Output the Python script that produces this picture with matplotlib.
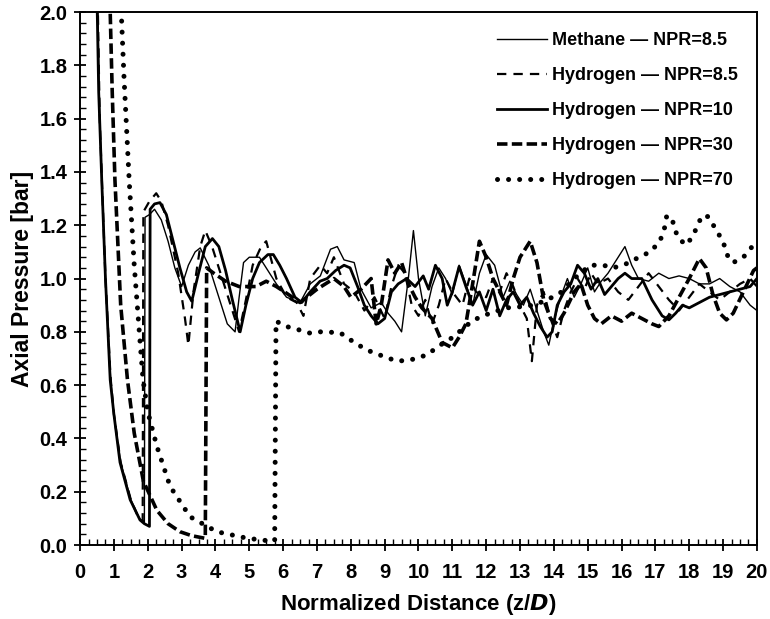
import matplotlib
matplotlib.use("Agg")
import matplotlib.pyplot as plt
from matplotlib.ticker import MultipleLocator, FormatStrFormatter

plt.rcParams["font.family"] = "Liberation Sans"
plt.rcParams["font.weight"] = "bold"

# -----------------------------------------------------------
# axial pressure profiles along the jet centreline
# -----------------------------------------------------------
ch4_85_z = [0.52, 0.58, 0.65, 0.75, 0.9, 1.0, 1.2, 1.5, 1.75, 1.9,
            1.92, 2.05, 2.2, 2.4, 2.6, 2.8, 3.0, 3.2, 3.4, 3.55, 3.8, 4.1,
            4.35, 4.58, 4.7, 4.83, 5.0, 5.3, 5.5, 5.8, 6.1, 6.5, 6.8, 7.1,
            7.4, 7.6, 7.8, 8.1, 8.3, 8.6, 8.9, 9.1, 9.3, 9.5, 9.7, 9.85,
            10.0, 10.2, 10.4, 10.6, 10.8, 11.0, 11.2, 11.4, 11.6, 11.8, 12.0,
            12.25, 12.5, 12.7, 12.9, 13.1, 13.3, 13.5, 13.7, 13.85, 14.0,
            14.2, 14.4, 14.6, 14.8, 15.0, 15.2, 15.4, 15.6, 15.8, 16.1, 16.3,
            16.5, 16.8, 17.1, 17.4, 17.7, 18.0, 18.3, 18.6, 18.9, 19.2, 19.5,
            19.8, 20.0]
ch4_85_p = [2.05, 1.6, 1.35, 1.0, 0.63, 0.49, 0.31, 0.17, 0.1, 0.085,
            1.23, 1.24, 1.26, 1.22, 1.14, 1.04, 0.97, 1.05, 1.10, 1.115, 1.05,
            0.93, 0.83, 0.80, 0.93, 1.06, 1.08, 1.08, 1.04, 0.98, 0.93, 0.91,
            0.98, 1.01, 1.11, 1.12, 1.07, 1.06, 0.96, 0.89, 0.91, 0.87, 0.84,
            0.80, 1.0, 1.18, 1.0, 0.86, 0.97, 1.04, 1.00, 0.94, 1.05, 0.98,
            0.90, 1.02, 1.09, 1.05, 0.93, 0.99, 0.94, 0.90, 0.96, 0.88, 0.80,
            0.75, 0.84, 0.93, 1.0, 0.93, 0.98, 1.04, 0.95, 0.99, 1.02, 1.06,
            1.12, 1.05, 1.0, 0.99, 1.02, 1.0, 1.01, 1.0, 0.98, 0.98, 1.0, 0.97,
            0.95, 0.9, 0.88]

h2_85_z = [0.52, 0.58, 0.65, 0.75, 0.9, 1.0, 1.2, 1.5, 1.7, 1.85,
           1.87, 2.05, 2.25, 2.4, 2.6, 2.9, 3.1, 3.2, 3.35, 3.55, 3.7, 3.9,
           4.2, 4.5, 4.7, 4.9, 5.1, 5.35, 5.5, 5.8, 6.1, 6.4, 6.6, 6.8, 7.1,
           7.3, 7.5, 7.8, 8.1, 8.4, 8.7, 9.0, 9.2, 9.4, 9.6, 9.8, 10.0, 10.2,
           10.4, 10.6, 10.8, 11.0, 11.3, 11.5, 11.7, 12.0, 12.2, 12.4, 12.6,
           12.8, 13.0, 13.2, 13.35, 13.5, 13.7, 13.9, 14.1, 14.3, 14.5, 14.7,
           14.9, 15.1, 15.3, 15.6, 15.9, 16.2, 16.5, 16.8, 17.1, 17.4, 17.7,
           18.0, 18.3, 18.6, 18.9, 19.2, 19.5, 19.8, 20.0]
h2_85_p = [2.05, 1.6, 1.35, 1.0, 0.63, 0.49, 0.31, 0.17, 0.11, 0.09,
           1.25, 1.29, 1.32, 1.29, 1.2, 1.02, 0.85, 0.75, 0.95, 1.12, 1.18,
           1.12, 1.0, 0.88, 0.8, 0.92, 1.05, 1.12, 1.14, 1.0, 0.93, 0.91,
           0.86, 1.0, 1.05, 1.02, 1.08, 0.98, 0.95, 0.88, 0.93, 0.85, 0.97,
           1.05, 1.02, 0.9, 0.86, 0.92, 0.83, 0.9, 1.0, 0.95, 0.9, 1.0, 0.95,
           0.93, 1.0, 0.95, 1.02, 0.97, 0.9, 0.85, 0.69, 0.9, 0.95, 0.85,
           0.78, 0.88, 0.95, 1.0, 0.96, 1.02, 0.98, 1.0, 0.95, 0.92, 0.97,
           1.02, 0.97, 0.92, 0.88, 0.93, 0.98, 0.95, 0.92, 0.95, 0.98, 1.0,
           0.97]

h2_10_z = [0.5, 0.55, 0.64, 0.75, 0.89, 1.0, 1.18, 1.48, 1.77, 1.9, 2.05,
           2.07, 2.2, 2.36, 2.55, 2.75, 2.95, 3.15, 3.3, 3.5, 3.7, 3.91, 4.1,
           4.3, 4.5, 4.73, 4.9, 5.1, 5.3, 5.55, 5.71, 5.9, 6.1, 6.35, 6.55,
           6.8, 7.09, 7.3, 7.55, 7.8, 7.98, 8.2, 8.4, 8.6, 8.8, 9.0, 9.2, 9.4,
           9.65, 9.9, 10.14, 10.3, 10.5, 10.7, 10.85, 11.0, 11.2, 11.4, 11.6,
           11.8, 12.0, 12.2, 12.4, 12.6, 12.8, 13.0, 13.2, 13.4, 13.6, 13.8,
           13.95, 14.1, 14.3, 14.5, 14.7, 14.9, 15.1, 15.3, 15.5, 15.7, 15.9,
           16.1, 16.3, 16.6, 16.9, 17.2, 17.4, 17.6, 17.8, 18.0, 18.3, 18.6,
           18.9, 19.2, 19.5, 19.8, 20.0]
h2_10_p = [2.05, 1.7, 1.37, 1.0, 0.62, 0.49, 0.31, 0.17, 0.094, 0.08, 0.07,
           1.26, 1.28, 1.285, 1.24, 1.14, 1.04, 0.95, 0.915, 1.02, 1.12, 1.15,
           1.12, 1.03, 0.92, 0.80, 0.9, 1.0, 1.06, 1.09, 1.09, 1.05, 1.0,
           0.93, 0.91, 0.95, 0.99, 1.0, 1.03, 1.05, 1.04, 0.97, 0.9, 0.86,
           0.83, 0.85, 0.95, 0.98, 1.0, 0.97, 1.01, 0.96, 1.05, 1.0, 0.9,
           0.95, 1.045, 0.97, 0.9, 0.95, 0.88, 0.96, 0.86, 0.92, 0.95, 0.9,
           0.93, 0.87, 0.82, 0.78, 0.8, 0.9, 0.95, 0.98, 1.05, 1.02, 0.96,
           1.0, 0.94, 0.97, 1.0, 1.02, 1.0, 1.0, 0.92, 0.86, 0.845, 0.87, 0.9,
           0.89, 0.91, 0.93, 0.94, 0.95, 0.96, 0.97, 1.0]

h2_30_z = [0.88, 0.95, 1.03, 1.2, 1.4, 1.6, 1.87, 2.27, 2.6, 2.95, 3.3,
           3.7, 3.74, 3.95, 4.3, 4.7, 5.2, 5.5, 5.8, 6.1, 6.5, 6.8, 7.0, 7.5,
           7.8, 8.0, 8.3, 8.6, 8.75, 8.9, 9.1, 9.3, 9.5, 9.7, 9.9, 10.1, 10.4,
           10.7, 11.0, 11.2, 11.4, 11.6, 11.8, 12.0, 12.2, 12.4, 12.6, 12.8,
           13.0, 13.15, 13.3, 13.5, 13.7, 13.9, 14.1, 14.3, 14.6, 14.8, 15.0,
           15.2, 15.4, 15.7, 16.0, 16.3, 16.6, 16.9, 17.1, 17.4, 17.7, 18.0,
           18.3, 18.5, 18.7, 18.9, 19.1, 19.3, 19.6, 19.9, 20.0]
h2_30_p = [2.05, 1.7, 1.37, 0.9, 0.62, 0.42, 0.24, 0.13, 0.08, 0.05, 0.035,
           0.025, 1.04, 1.02, 0.99, 0.97, 0.97, 0.99, 0.97, 0.945, 0.91, 0.94,
           0.96, 1.0, 0.97, 0.93, 0.96, 1.0, 0.83, 0.9, 1.07, 1.02, 1.06,
           0.98, 0.93, 0.89, 0.85, 0.76, 0.74, 0.78, 0.83, 0.98, 1.14, 1.08,
           1.0, 0.95, 0.9, 1.0, 1.08, 1.11, 1.14, 1.06, 0.92, 0.85, 0.83,
           0.87, 0.95, 0.98, 0.9, 0.85, 0.83, 0.86, 0.84, 0.87, 0.85, 0.83,
           0.82, 0.86, 0.93, 1.0, 1.075, 1.04, 0.94, 0.87, 0.845, 0.87, 0.95,
           1.03, 1.04]

h2_70_z = [1.2, 1.3, 1.45, 1.6, 1.75, 1.86, 2.0, 2.27, 2.66, 3.25, 4.04,
           4.92, 5.4, 5.75, 5.79, 6.1, 6.4, 6.8, 7.1, 7.68, 8.07, 8.47, 8.86,
           9.36, 9.75, 10.24, 10.64, 11.02, 11.32, 11.62, 12.11, 12.6, 13.0,
           13.4, 13.8, 14.18, 14.45, 14.67, 15.07, 15.46, 15.76, 16.15, 16.44,
           16.84, 17.13, 17.28, 17.33, 17.48, 17.58, 17.73, 17.92, 18.12,
           18.32, 18.41, 18.56, 18.81, 19.0, 19.15, 19.3, 19.6, 19.9, 20.0]
h2_70_p = [2.05, 1.75, 1.37, 1.05, 0.8, 0.62, 0.5, 0.37, 0.22, 0.106, 0.05,
           0.026, 0.018, 0.015, 0.84, 0.82, 0.81, 0.795, 0.80, 0.797, 0.763,
           0.732, 0.713, 0.69, 0.694, 0.713, 0.75, 0.78, 0.813, 0.844, 0.87,
           0.89, 0.894, 0.9, 0.92, 0.945, 0.98, 1.007, 1.05, 1.05, 1.04,
           1.056, 1.075, 1.10, 1.138, 1.194, 1.232, 1.232, 1.18, 1.145, 1.126,
           1.163, 1.22, 1.238, 1.232, 1.18, 1.138, 1.08, 1.06, 1.08, 1.126,
           1.14]

fig = plt.figure(figsize=(7.70, 6.19), dpi=100)
ax = fig.add_axes([0.104, 0.1195, 0.879, 0.861])

ax.plot(ch4_85_z, ch4_85_p, color='k', lw=1.0,
        label='Methane \u2014 NPR=8.5')
ax.plot(h2_85_z, h2_85_p, color='k', lw=1.6, dashes=(4.2, 3.2),
        label='Hydrogen \u2014 NPR=8.5')
ax.plot(h2_10_z, h2_10_p, color='k', lw=2.0,
        label='Hydrogen \u2014 NPR=10')
ax.plot(h2_30_z, h2_30_p, color='k', lw=2.6, dashes=(2.9, 1.2),
        label='Hydrogen \u2014 NPR=30')
ax.plot(h2_70_z, h2_70_p, color='k', lw=3.6, dashes=(0.01, 2.2),
        dash_capstyle='round', label='Hydrogen \u2014 NPR=70')

ax.set_xlim(0, 20)
ax.set_ylim(0, 2.0)
ax.xaxis.set_major_locator(MultipleLocator(1))
ax.xaxis.set_minor_locator(MultipleLocator(0.25))
ax.yaxis.set_major_locator(MultipleLocator(0.2))
ax.yaxis.set_minor_locator(MultipleLocator(0.04))
ax.yaxis.set_major_formatter(FormatStrFormatter('%.1f'))
ax.tick_params(which='major', direction='inout', length=8, width=1.3,
               labelsize=14.5)
ax.tick_params(axis='x', which='major', pad=9)
ax.tick_params(axis='y', which='major', pad=5)
ax.tick_params(which='minor', direction='in', length=4, width=1)
for sp in ax.spines.values():
    sp.set_linewidth(1.4)

ax.set_xlabel('Normalized Distance (z/$\\mathbfit{D}$)', fontsize=16,
              fontweight='bold', labelpad=7)
ax.set_ylabel('Axial Pressure [bar]', fontsize=16.5, fontweight='bold',
              labelpad=4)

leg = ax.legend(loc='upper right', bbox_to_anchor=(0.982, 0.976),
                borderaxespad=0, frameon=False, handlelength=2.8,
                handletextpad=0.25, labelspacing=1.0,
                prop={'weight': 'bold', 'size': 13})

fig.savefig('out.png', dpi=100)
